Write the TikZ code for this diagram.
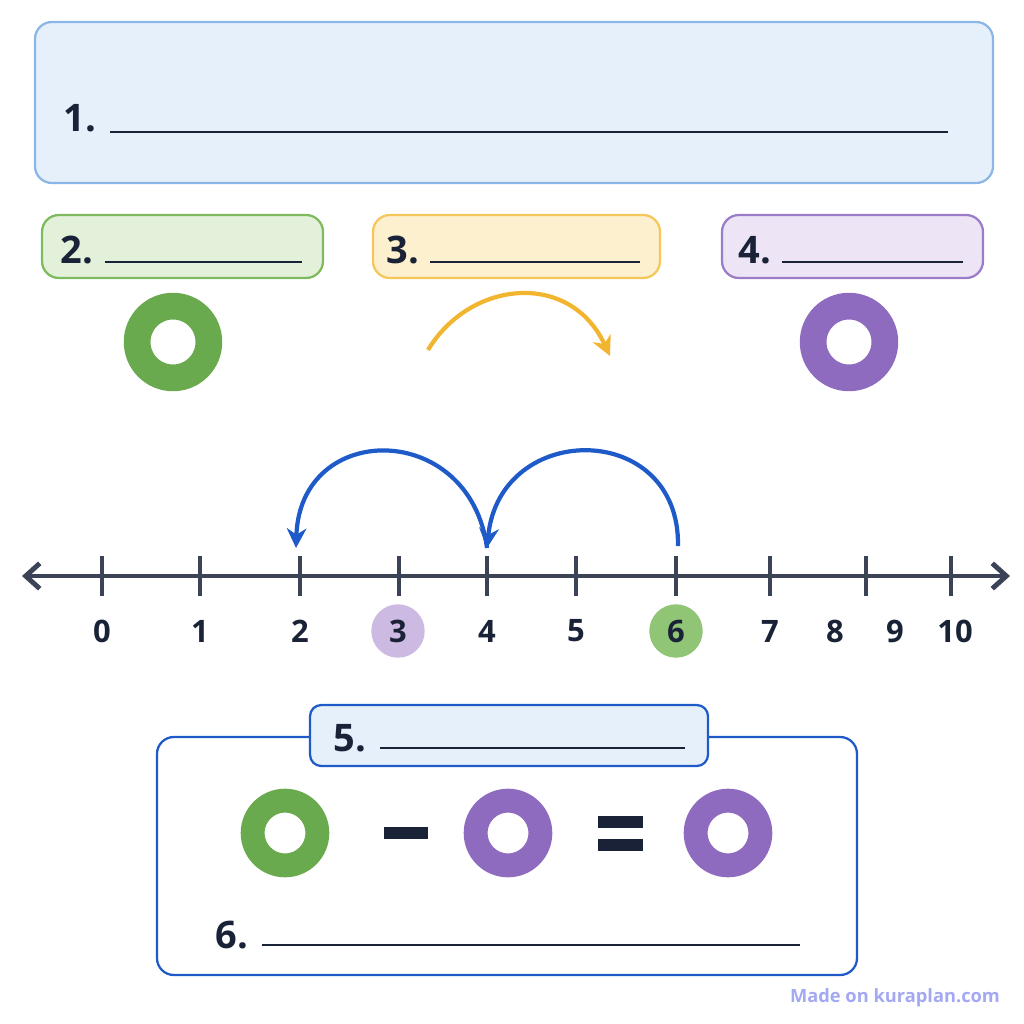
\documentclass[tikz,border=0pt]{standalone}
\usepackage{fontspec}
\setmainfont{Open Sans}
\usetikzlibrary{arrows.meta}
\definecolor{ink}{HTML}{1A2238}
\definecolor{bluefill}{HTML}{E6F0FB}
\definecolor{blueline}{HTML}{8AB6E8}
\definecolor{deepblue}{HTML}{1F5BC8}
\definecolor{greenfill}{HTML}{E3F0DA}
\definecolor{greenline}{HTML}{7DBB5E}
\definecolor{greenring}{HTML}{6AAA4E}
\definecolor{yellowfill}{HTML}{FDF0CF}
\definecolor{yellowline}{HTML}{F5C75A}
\definecolor{arcyellow}{HTML}{F2B530}
\definecolor{purplefill}{HTML}{EDE4F5}
\definecolor{purpleline}{HTML}{9B7CC8}
\definecolor{purplering}{HTML}{8E6BBF}
\definecolor{credit}{HTML}{A3A8F2}
\tikzset{
  card/.style={rounded corners=12pt, line width=1.6pt},
  blank/.style={line width=1.3pt, ink},
  numlabel/.style={font=\bfseries\fontsize{27}{27}\selectfont, text=ink},
  ticklabel/.style={font=\bfseries\fontsize{22}{22}\selectfont, text=ink},
  ring/.style={line width=19pt, draw=#1, fill=none, minimum size=51pt, circle, inner sep=0pt},
  smallring/.style={line width=17pt, draw=#1, fill=none, minimum size=46pt, circle, inner sep=0pt},
  jump/.style={line width=3pt, -{Stealth[length=14pt,width=14pt]}},
}
\begin{document}
\begin{tikzpicture}[x=0.025cm,y=-0.025cm]
\useasboundingbox (0,0) rectangle (1024,1024);
% top card
\draw[card, fill=bluefill, draw=blueline] (35,22) rectangle (993,183);
\node[numlabel] (n1) at (80,118) {1.};
\coordinate (l1a) at (110,132); \coordinate (l1b) at (948,132);
\draw[blank] (l1a) -- (l1b);
% three small cards
\draw[card, fill=greenfill, draw=greenline] (42,215) rectangle (323,278);
\node[numlabel] (n2) at (77,250) {2.};
\coordinate (l2a) at (105,262); \coordinate (l2b) at (302,262);
\draw[blank] (l2a) -- (l2b);
\draw[card, fill=yellowfill, draw=yellowline] (373,215) rectangle (660,278);
\node[numlabel] (n3) at (403,250) {3.};
\coordinate (l3a) at (430,262); \coordinate (l3b) at (640,262);
\draw[blank] (l3a) -- (l3b);
\draw[card, fill=purplefill, draw=purpleline] (722,215) rectangle (983,278);
\node[numlabel] (n4) at (755,250) {4.};
\coordinate (l4a) at (782,262); \coordinate (l4b) at (963,262);
\draw[blank] (l4a) -- (l4b);
% rings and yellow arc
\node[ring=greenring] (rg) at (173,342) {};
\node[ring=purplering] (rp) at (849,342) {};
\coordinate (ya) at (428,350); \coordinate (yb) at (610,356);
\draw[jump, arcyellow] (ya) .. controls (470,280) and (570,270) .. (yb);
% number line
\coordinate (left) at (22,576); \coordinate (right) at (1010,576);
\draw[line width=3.5pt, ink!85, {Straight Barb[length=10pt,width=18pt]}-{Straight Barb[length=10pt,width=18pt]}] (left) -- (right);
\foreach \x in {102,200,300,399,487,576,676,770,866,951}
  \draw[line width=3pt, ink!85] (\x,556) -- (\x,596);
\node[circle, fill=purplefill!60!purpleline, minimum size=38pt, inner sep=0pt] (c3) at (398,631) {};
\node[circle, fill=greenline!85, minimum size=38pt, inner sep=0pt] (c6) at (676,631) {};
\foreach \x/\t in {102/0,200/1,300/2,398/3,487/4,576/5,676/6,770/7,835/8,895/9,955/10}
  \node[ticklabel] (t\t) at (\x,631) {\t};
% jumps
\coordinate (s6) at (678,546); \coordinate (s4) at (487,548); \coordinate (s2) at (296,548);
\draw[jump, deepblue] (s6) .. controls (680,420) and (500,420) .. (s4);
\draw[jump, deepblue] (s4) .. controls (470,420) and (300,420) .. (s2);
% bottom card
\draw[card, fill=white, draw=deepblue] (157,737) rectangle (857,975);
\draw[rounded corners=8pt, line width=1.6pt, fill=bluefill, draw=deepblue] (310,705) rectangle (708,766);
\node[numlabel] (n5) at (350,738) {5.};
\coordinate (l5a) at (380,748); \coordinate (l5b) at (685,748);
\draw[blank] (l5a) -- (l5b);
\node[smallring=greenring] (eqa) at (285,833) {};
\node[smallring=purplering] (eqb) at (508,833) {};
\node[smallring=purplering] (eqc) at (728,833) {};
\draw[line width=8pt, ink] (384,833) -- (428,833);
\draw[line width=8pt, ink] (598,822) -- (643,822);
\draw[line width=8pt, ink] (598,845) -- (643,845);
\node[numlabel] (n6) at (232,935) {6.};
\coordinate (l6a) at (262,945); \coordinate (l6b) at (800,945);
\draw[blank] (l6a) -- (l6b);
\node[font=\bfseries\fontsize{13}{13}\selectfont, text=credit] (note) at (895,998) {Made on kuraplan.com};
\end{tikzpicture}
\end{document}
